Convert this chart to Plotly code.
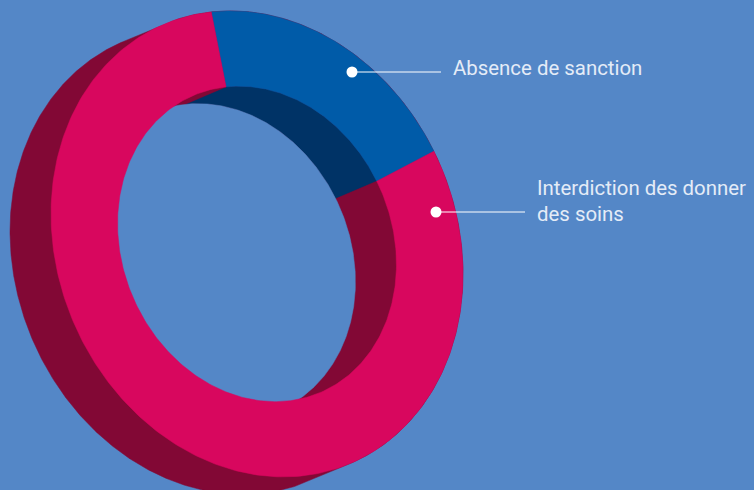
import numpy as np
import plotly.graph_objects as go

# Data
categories = ["Absence de sanction", "Interdiction des donner<br>des soins"]
shares = [20, 80]

# Colours
background = "#5487C7"
face_colors = ["#005BA8", "#D8075E"]
wall_colors = ["#003366", "#820835"]

# Ring geometry in page pixels
centre = np.array([257.0, 243.9])
semi_major, semi_minor = 238.6, 199.5
tilt = np.radians(23.1)
hole_ratio = 0.677
depth = np.array([-41.0, 17.5])
first_angle = 165.8

axis_u = np.array([np.sin(tilt), np.cos(tilt)])
axis_v = np.array([np.cos(tilt), -np.sin(tilt)])


def ring_point(deg, radius=1.0, offset=(0.0, 0.0)):
    t = np.radians(np.asarray(deg, dtype=float))[..., None]
    return centre + np.asarray(offset) + radius * (
        semi_major * np.cos(t) * axis_u + semi_minor * np.sin(t) * axis_v
    )


def hull(points):
    pts = sorted(map(tuple, points))
    def half(seq):
        out = []
        for p in seq:
            while len(out) > 1 and np.cross(
                np.subtract(out[-1], out[-2]), np.subtract(p, out[-1])
            ) <= 0:
                out.pop()
            out.append(p)
        return out[:-1]
    return np.array(half(pts) + half(pts[::-1]))


def polygon(points, color, name=None):
    closed = np.vstack([points, points[:1]])
    return go.Scatter(
        x=closed[:, 0], y=closed[:, 1], mode="lines", fill="toself",
        fillcolor=color, line=dict(color=color, width=0.5),
        hoverinfo="text" if name else "skip", text=name, showlegend=False,
    )


# Angular span of each slice, clockwise on the page from the first seam
spans = []
angle = first_angle
for share in shares:
    sweep = 360.0 * share / sum(shares)
    spans.append((angle, angle - sweep))
    angle -= sweep

circle = np.linspace(0, 360, 721)
fig = go.Figure()

# Outer wall: swept outline of the ring's rim
rim = np.vstack([ring_point(circle), ring_point(circle, offset=depth)])
fig.add_trace(polygon(hull(rim), wall_colors[1]))

# Inner wall seen through the hole, one piece per slice
for (start, end), color in zip(spans, wall_colors):
    arc = np.linspace(start, end, 240)
    front = ring_point(arc, hole_ratio)
    back = ring_point(arc, hole_ratio, depth)
    fig.add_trace(polygon(np.vstack([front, back[::-1]]), color))

# Background showing through the rear opening
fig.add_trace(polygon(ring_point(circle, hole_ratio, depth), background))

# Front face of the ring
for (start, end), color, label in zip(spans, face_colors, categories):
    arc = np.linspace(start, end, 300)
    face = np.vstack([ring_point(arc), ring_point(arc[::-1], hole_ratio)])
    fig.add_trace(polygon(face, color, label))

# Leader lines and their dots
leaders = [((352, 72), (441, 72)), ((436, 212), (525, 212))]
for dot, tip in leaders:
    fig.add_trace(go.Scatter(
        x=[dot[0], tip[0]], y=[dot[1], tip[1]], mode="lines",
        line=dict(color="white", width=1), hoverinfo="skip", showlegend=False,
    ))
    fig.add_trace(go.Scatter(
        x=[dot[0]], y=[dot[1]], mode="markers",
        marker=dict(color="white", size=11), hoverinfo="skip", showlegend=False,
    ))

# Labels, placed by line
label_font = dict(family="Roboto", size=20.4, color="#E4ECF7")
label_lines = [
    (451, 67.5, "Absence de sanction"),
    (535, 187.5, "Interdiction des donner"),
    (535, 213.5, "des soins"),
]
for x, y, line in label_lines:
    fig.add_annotation(x=x, y=y, text=line, showarrow=False, xanchor="left",
                       yanchor="middle", font=label_font)

fig.update_layout(
    width=754, height=490, margin=dict(l=0, r=0, t=0, b=0),
    paper_bgcolor=background, plot_bgcolor=background, showlegend=False,
    xaxis=dict(range=[0, 754], visible=False, fixedrange=True),
    yaxis=dict(range=[490, 0], visible=False, fixedrange=True),
)
fig.write_html("out.html", config={"displayModeBar": False})
